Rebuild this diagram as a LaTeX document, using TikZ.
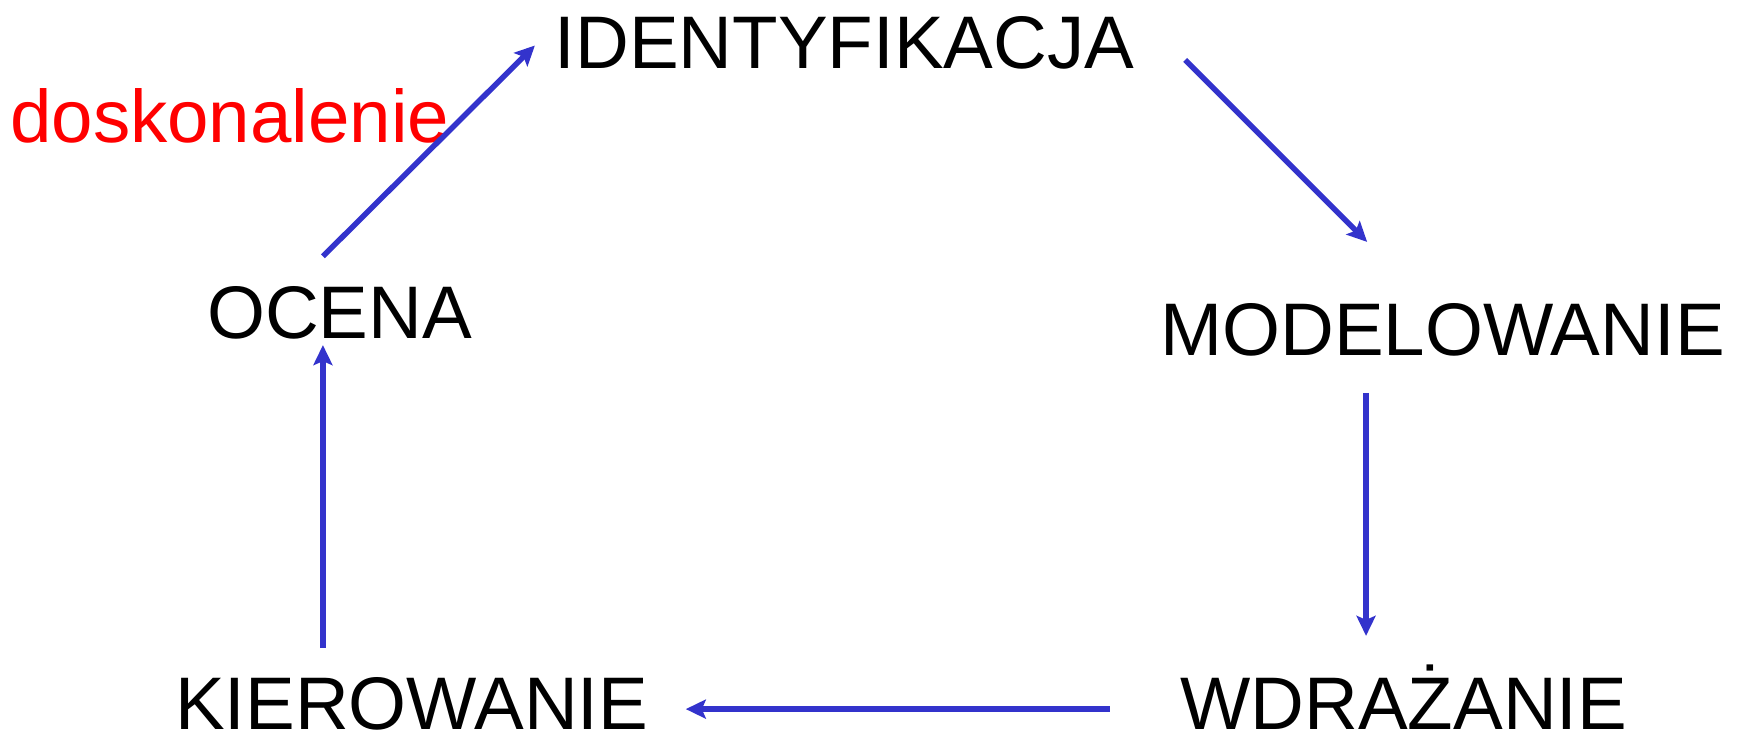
\documentclass[tikz,border=0pt]{standalone}
\usepackage{fontspec}
\setmainfont{Liberation Sans}
\usetikzlibrary{arrows.meta}
\definecolor{arrowblue}{RGB}{51,51,204}
\begin{document}
\begin{tikzpicture}[x=1.1097pt,y=-1.1097pt,
  lbl/.style={inner sep=0pt,anchor=base,text depth=0pt,font=\fontsize{74.5}{88}\selectfont},
  conn/.style={arrowblue,line width=5.5pt,-{Stealth[length=20pt,width=19pt,inset=4pt]}}]
\useasboundingbox (0,0) rectangle (1568,662.3);
\node[lbl] (ident) at (761,62) {IDENTYFIKACJA};
\node[lbl,red] (dosk) at (207,128) {doskonalenie};
\node[lbl] (ocena) at (306,305) {OCENA};
\node[lbl] (model) at (1300,320) {MODELOWANIE};
\node[lbl] (wdraz) at (1265,657) {WDRAŻANIE};
\node[lbl] (kier) at (371,657) {KIEROWANIE};
\coordinate (a1s) at (291,231); \coordinate (a1e) at (482,41);
\coordinate (a2s) at (1068,54); \coordinate (a2e) at (1232,218);
\coordinate (a3s) at (1231,354); \coordinate (a3e) at (1231,573);
\coordinate (a4s) at (1000,639); \coordinate (a4e) at (618,639);
\coordinate (a5s) at (291,584); \coordinate (a5e) at (291,311);
\draw[conn] (a1s) -- (a1e);
\draw[conn] (a2s) -- (a2e);
\draw[conn] (a3s) -- (a3e);
\draw[conn] (a4s) -- (a4e);
\draw[conn] (a5s) -- (a5e);
\end{tikzpicture}
\end{document}
